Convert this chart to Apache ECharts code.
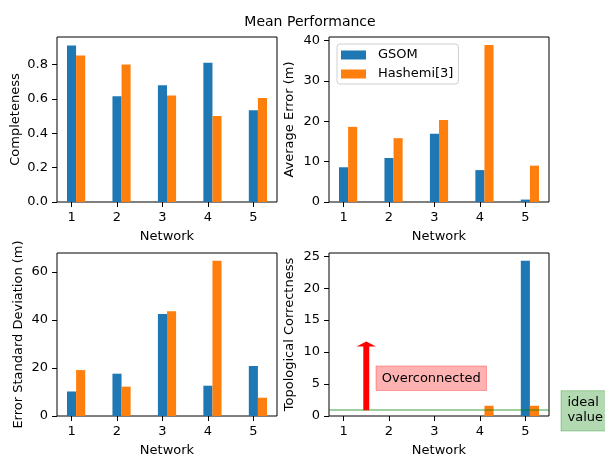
<!DOCTYPE html>
<html>
<head>
<meta charset="utf-8">
<script src="https://cdn.jsdelivr.net/npm/echarts@6/dist/echarts.min.js"></script>
<style>html,body{margin:0;padding:0;background:#fff}#chart{width:605px;height:458px}</style>
</head>
<body>
<div id="chart"></div>
<script>
// ---- data ----
const networks = [1, 2, 3, 4, 5];
const gsomCompleteness = [0.91, 0.615, 0.68, 0.81, 0.534];
const hashemiCompleteness = [0.852, 0.80, 0.62, 0.50, 0.605];
const gsomAvgError = [8.6, 10.9, 16.9, 7.9, 0.6];
const hashemiAvgError = [18.6, 15.8, 20.3, 38.9, 9.0];
const gsomErrStd = [10.2, 17.6, 42.4, 12.6, 20.8];
const hashemiErrStd = [19.1, 12.2, 43.6, 64.6, 7.6];
const gsomTopo = [0, 0, 0, 0, 24.3];
const hashemiTopo = [0, 0, 0, 1.6, 1.6];
const idealTopo = 1;
const arrowX = 1.5, arrowFrom = 1, arrowTo = 11;

const xTicks = [1, 2, 3, 4, 5];
const yTicksCompleteness = [0, 0.2, 0.4, 0.6, 0.8];
const yTicksAvgError = [0, 10, 20, 30, 40];
const yTicksErrStd = [0, 20, 40, 60];
const yTicksTopo = [0, 5, 10, 15, 20, 25];

const seriesNames = ['GSOM', 'Hashemi[3]'];
const yNames = ['Completeness', 'Average Error (m)', 'Error Standard Deviation (m)', 'Topological Correctness'];
const yMax = [0.96, 40.85, 67.8, 25.5];

// ---- layout ----
const FONT = 'DejaVu Sans';
const BLUE = '#1f77b4', ORANGE = '#ff7f0e';
const grids = [
  {left: 57, top: 37, width: 220, height: 165},
  {left: 329, top: 37, width: 220, height: 165},
  {left: 57, top: 253, width: 220, height: 164},
  {left: 329, top: 253, width: 220, height: 164}
];
const yTickSets = [yTicksCompleteness, yTicksAvgError, yTicksErrStd, yTicksTopo];
const yFormat = [v => Number(v).toFixed(1), v => String(v), v => String(v), v => String(v)];
const yNameGaps = [35, 33, 32, 33];

function pairs(vals) { return networks.map((n, i) => [n, vals[i]]); }

function barRender(offset) {
  return function (params, api) {
    const x = api.value(0) + offset, y = api.value(1);
    const p0 = api.coord([x - 0.1, y]);
    const p1 = api.coord([x + 0.1, 0]);
    return {
      type: 'rect',
      shape: {x: p0[0], y: p0[1], width: p1[0] - p0[0], height: p1[1] - p0[1]},
      style: {fill: api.visual('color')}
    };
  };
}

const xAxes = grids.map((g, i) => ({
  type: 'value', gridIndex: i, min: 0.68, max: 5.52,
  name: 'Network', nameLocation: 'middle', nameGap: 28,
  nameTextStyle: {fontFamily: FONT, fontSize: 13, color: '#000'},
  axisLine: {show: false},
  splitLine: {show: false},
  axisTick: {show: true, length: 5, lineStyle: {color: '#000', width: 1}, customValues: xTicks},
  axisLabel: {fontFamily: FONT, fontSize: 13, color: '#000', margin: 9, customValues: xTicks}
}));

const yAxes = grids.map((g, i) => ({
  type: 'value', gridIndex: i, min: 0, max: yMax[i],
  name: yNames[i], nameLocation: 'middle', nameGap: yNameGaps[i],
  nameTextStyle: {fontFamily: FONT, fontSize: 13, color: '#000'},
  axisLine: {show: false},
  splitLine: {show: false},
  axisTick: {show: true, length: 5, lineStyle: {color: '#000', width: 1}, customValues: yTickSets[i]},
  axisLabel: {fontFamily: FONT, fontSize: 13, color: '#000', margin: 9, customValues: yTickSets[i], formatter: yFormat[i]}
}));

const gsomSets = [gsomCompleteness, gsomAvgError, gsomErrStd, gsomTopo];
const hashemiSets = [hashemiCompleteness, hashemiAvgError, hashemiErrStd, hashemiTopo];

const series = [];
for (let i = 0; i < 4; i++) {
  series.push({
    type: 'custom', name: seriesNames[0], xAxisIndex: i, yAxisIndex: i,
    itemStyle: {color: BLUE}, renderItem: barRender(0), encode: {x: 0, y: 1},
    data: pairs(gsomSets[i]), silent: true
  });
  series.push({
    type: 'custom', name: seriesNames[1], xAxisIndex: i, yAxisIndex: i,
    itemStyle: {color: ORANGE}, renderItem: barRender(0.2), encode: {x: 0, y: 1},
    data: pairs(hashemiSets[i]), silent: true
  });
}
// ideal value line
series.push({
  type: 'line', xAxisIndex: 3, yAxisIndex: 3, data: [], silent: true,
  markLine: {
    silent: true, symbol: ['none', 'none'], label: {show: false},
    lineStyle: {color: 'rgba(0,128,0,0.5)', width: 1.5, type: 'solid'},
    data: [{yAxis: idealTopo}]
  },
  z: 5
});
// red arrow
series.push({
  type: 'custom', xAxisIndex: 3, yAxisIndex: 3, silent: true, z: 6,
  data: [[arrowX, arrowFrom, arrowTo]],
  renderItem: function (params, api) {
    const x = api.value(0), y0 = api.value(1), y1 = api.value(2);
    const hw = 0.05, hh = 0.15, hl = 0.55;
    const pts = [[x - hw, y0], [x + hw, y0], [x + hw, y1], [x + hh, y1], [x, y1 + hl], [x - hh, y1], [x - hw, y1]]
      .map(p => api.coord(p));
    return {type: 'polygon', shape: {points: pts}, style: {fill: 'red', stroke: 'red', lineWidth: 1.4, lineJoin: 'miter'}};
  }
});

const option = {
  animation: false,
  backgroundColor: '#fff',
  textStyle: {fontFamily: FONT},
  title: {
    text: 'Mean Performance', left: 305, top: 10, textAlign: 'center',
    textStyle: {fontFamily: FONT, fontSize: 14, fontWeight: 'normal', color: '#000'}
  },
  legend: {
    data: seriesNames, orient: 'vertical', left: 337, top: 44,
    icon: 'rect', itemWidth: 25, itemHeight: 9, itemGap: 5,
    padding: [4, 5, 3, 4],
    backgroundColor: 'rgba(255,255,255,0.8)', borderColor: '#d0d0d0', borderWidth: 1, borderRadius: 3,
    textStyle: {fontFamily: FONT, fontSize: 13, color: '#000', lineHeight: 14, padding: [0, 0, 0, 7]},
    selectedMode: false
  },
  grid: grids.map(g => Object.assign({show: true, borderColor: '#000', borderWidth: 1, backgroundColor: 'transparent', containLabel: false}, g)),
  xAxis: xAxes,
  yAxis: yAxes,
  series: series,
  graphic: [
    {type: 'rect', shape: {x: 376, y: 366, width: 110.5, height: 24.5}, style: {fill: 'rgba(255,0,0,0.3)', stroke: 'rgba(255,0,0,0.3)', lineWidth: 1}, z: 10},
    {type: 'text', x: 431.3, y: 378.5, style: {text: 'Overconnected', font: '13px "DejaVu Sans"', fill: '#000', align: 'center', verticalAlign: 'middle'}, z: 11},
    {type: 'rect', shape: {x: 561, y: 390.7, width: 60, height: 40.3}, style: {fill: 'rgba(0,128,0,0.3)', stroke: 'rgba(0,128,0,0.3)', lineWidth: 1}, z: 10},
    {type: 'text', x: 567.5, y: 402.7, style: {text: 'ideal', font: '13px "DejaVu Sans"', fill: '#000', align: 'left', verticalAlign: 'middle'}, z: 11},
    {type: 'text', x: 567.5, y: 417.3, style: {text: 'value', font: '13px "DejaVu Sans"', fill: '#000', align: 'left', verticalAlign: 'middle'}, z: 11}
  ]
};

const chart = echarts.init(document.getElementById('chart'), null, {renderer: 'canvas'});
chart.setOption(option);
</script>
</body>
</html>
